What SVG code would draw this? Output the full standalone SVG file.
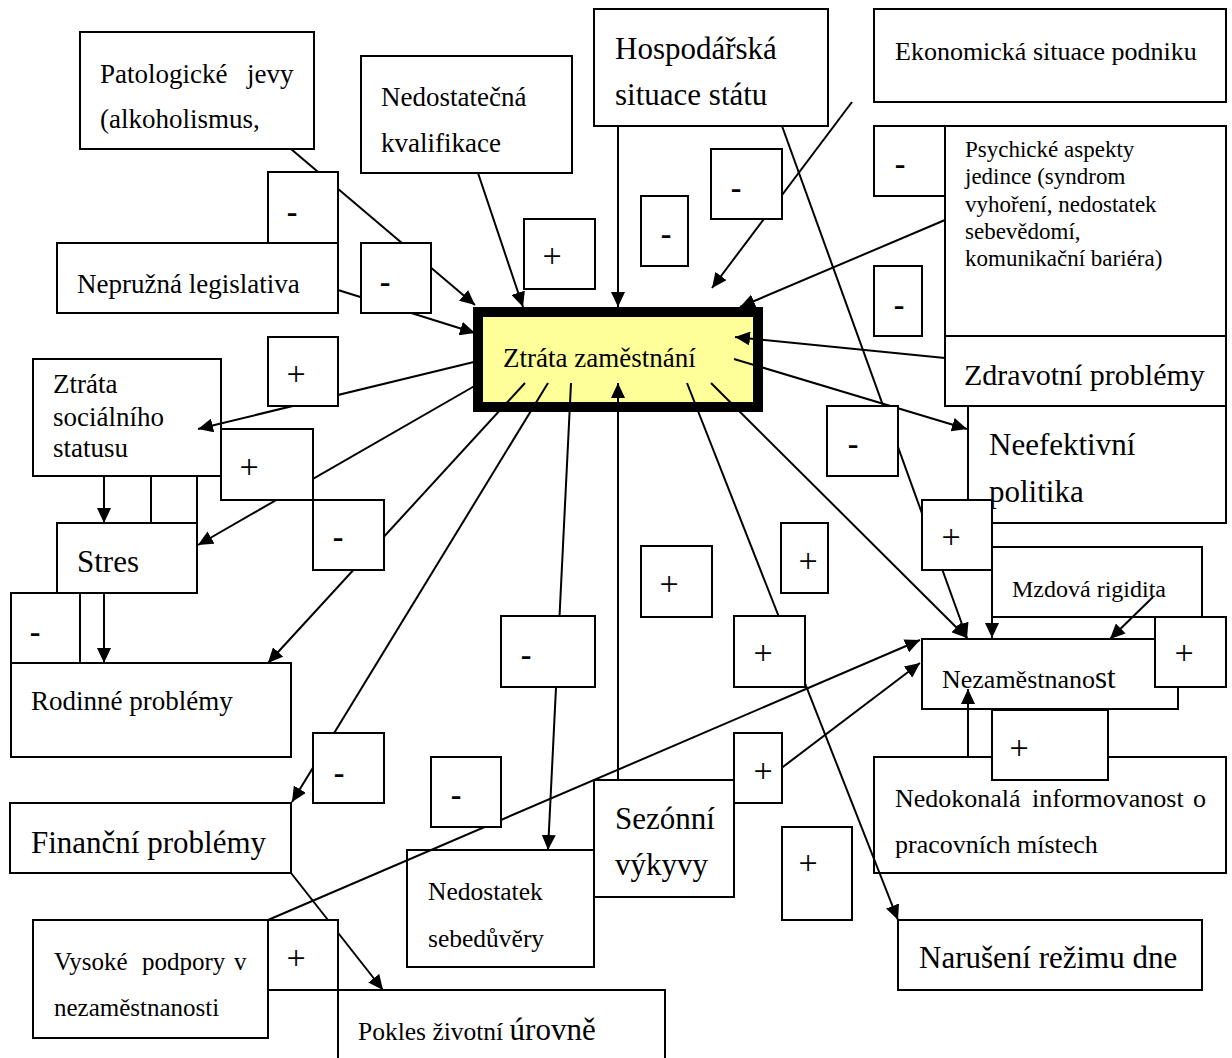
<svg xmlns="http://www.w3.org/2000/svg" width="1232" height="1058" viewBox="0 0 1232 1058">
<style>
  .bg { fill: #ffffff; }
  .n rect, .lb rect { fill: #ffffff; stroke: #000000; stroke-width: 2; }
  .core rect { fill: #FFFF99; stroke: #000000; stroke-width: 10; }
  text { font-family: "Liberation Serif", "Times New Roman", serif; fill: #000000; }
  .f23 { font-size: 23px; }
  .f24 { font-size: 24px; }
  .f25 { font-size: 25px; }
  .f26 { font-size: 26px; }
  .f27 { font-size: 27px; }
  .f30 { font-size: 30px; }
  .f31 { font-size: 31px; }
  .plus { font-size: 34px; text-anchor: middle; }
  .minus { font-size: 32px; font-weight: bold; text-anchor: middle; }
  .c line { stroke: #000000; stroke-width: 2; fill: none; }
  .c .a { marker-end: url(#ah); }
</style>
<defs>
  <marker id="ah" viewBox="0 0 15 14" refX="15" refY="7" markerWidth="15" markerHeight="14" markerUnits="userSpaceOnUse" orient="auto">
    <path d="M0,0 L15,7 L0,14 z" fill="#000000"/>
  </marker>
</defs>
<rect class="bg" x="0" y="0" width="1232" height="1058"/>

<!-- central node -->
<g id="ztrata-zamestnani" class="core">
  <rect x="478" y="312" width="280" height="95"/>
  <text class="f27" x="503" y="367">Ztráta zaměstnání</text>
</g>

<!-- nodes -->
<g id="patologicke-jevy" class="n">
  <rect x="80" y="32" width="234" height="117"/>
  <text class="f27" y="83"><tspan x="100">Patologické</tspan><tspan x="247">jevy</tspan></text>
  <text class="f27" x="100" y="128">(alkoholismus,</text>
</g>
<g id="nedostatecna-kvalifikace" class="n">
  <rect x="361" y="56" width="211" height="117"/>
  <text class="f27" x="381" y="106">Nedostatečná</text>
  <text class="f27" x="381" y="152">kvalifikace</text>
</g>
<g id="hospodarska-situace" class="n">
  <rect x="594" y="9" width="234" height="117"/>
  <text class="f31" x="615" y="59">Hospodářská</text>
  <text class="f31" x="615" y="105">situace státu</text>
</g>
<g id="ekonomicka-situace" class="n">
  <rect x="874" y="9" width="352" height="93"/>
  <text class="f26" x="895" y="60">Ekonomická situace podniku</text>
</g>
<g id="psychicke-aspekty" class="n">
  <rect x="945" y="126" width="281" height="210"/>
  <text class="f23" x="965" y="157">Psychické aspekty</text>
  <text class="f23" x="965" y="184">jedince (syndrom</text>
  <text class="f23" x="965" y="212">vyhoření, nedostatek</text>
  <text class="f23" x="965" y="239">sebevědomí,</text>
  <text class="f23" x="965" y="266">komunikační bariéra)</text>
</g>
<g id="zdravotni-problemy" class="n">
  <rect x="945" y="336" width="281" height="70"/>
  <text class="f30" x="964" y="385">Zdravotní problémy</text>
</g>
<g id="nepruzna-legislativa" class="n">
  <rect x="57" y="243" width="281" height="70"/>
  <text class="f27" x="77" y="293">Nepružná legislativa</text>
</g>
<g id="ztrata-socialniho-statusu" class="n">
  <rect x="33" y="359" width="188" height="117"/>
  <text class="f27" x="53" y="393">Ztráta</text>
  <text class="f27" x="53" y="426">sociálního</text>
  <text class="f27" x="53" y="457">statusu</text>
</g>
<g id="stres" class="n">
  <rect x="57" y="523" width="140" height="70"/>
  <text class="f31" x="77" y="572">Stres</text>
</g>
<g id="rodinne-problemy" class="n">
  <rect x="11" y="663" width="280" height="94"/>
  <text class="f27" x="31" y="710">Rodinné problémy</text>
</g>
<g id="financni-problemy" class="n">
  <rect x="10" y="803" width="281" height="70"/>
  <text class="f31" x="31" y="853">Finanční problémy</text>
</g>
<g id="vysoke-podpory" class="n">
  <rect x="33" y="920" width="235" height="118"/>
  <text class="f25" y="970"><tspan x="54">Vysoké</tspan><tspan x="142">podpory</tspan><tspan x="234">v</tspan></text>
  <text class="f25" x="54" y="1016">nezaměstnanosti</text>
</g>
<g id="pokles-zivotni-urovne" class="n">
  <rect x="338" y="990" width="327" height="80"/>
  <text x="358" y="1040"><tspan style="font-size:25.5px">Pokles životní </tspan><tspan class="f31">úrovně</tspan></text>
</g>
<g id="nedostatek-sebeduvery" class="n">
  <rect x="407" y="850" width="187" height="117"/>
  <text style="font-size:25.5px" x="428" y="900">Nedostatek</text>
  <text style="font-size:25.5px" x="428" y="947">sebedůvěry</text>
</g>
<g id="sezonni-vykyvy" class="n">
  <rect x="594" y="780" width="140" height="117"/>
  <text class="f31" x="615" y="829">Sezónní</text>
  <text class="f31" x="615" y="875">výkyvy</text>
</g>
<g id="neefektivni-politika" class="n">
  <rect x="968" y="406" width="258" height="117"/>
  <text class="f31" x="989" y="455">Neefektivní</text>
  <text class="f31" x="989" y="502">politika</text>
</g>
<g id="mzdova-rigidita" class="n">
  <rect x="992" y="547" width="210" height="70"/>
  <text class="f24" x="1012" y="597">Mzdová rigidita</text>
</g>
<g id="nezamestnanost" class="n">
  <rect x="922" y="639" width="256" height="70"/>
  <text x="942" y="688"><tspan class="f26">Nezaměstnano</tspan><tspan class="f31">st</tspan></text>
</g>
<g id="nedokonala-informovanost" class="n">
  <rect x="874" y="757" width="352" height="116"/>
  <text class="f26" y="807"><tspan x="895">Nedokonalá</tspan><tspan x="1032">informovanost</tspan><tspan x="1193">o</tspan></text>
  <text class="f26" x="895" y="853">pracovních místech</text>
</g>
<g id="naruseni-rezimu-dne" class="n">
  <rect x="898" y="920" width="304" height="70"/>
  <text class="f31" x="919" y="968">Narušení režimu dne</text>
</g>

<!-- connectors -->
<g id="connectors" class="c">
  <line class="a" x1="291" y1="149" x2="475" y2="305"/>
  <line class="a" x1="338" y1="290" x2="475" y2="333"/>
  <line class="a" x1="478" y1="173" x2="523" y2="307"/>
  <line class="a" x1="618" y1="126" x2="618" y2="307"/>
  <line class="a" x1="852" y1="102" x2="712" y2="288"/>
  <line class="a" x1="945" y1="220" x2="740" y2="307"/>
  <line class="a" x1="945" y1="358" x2="735" y2="337"/>
  <line class="a" x1="734" y1="359" x2="967" y2="429"/>
  <line class="a" x1="478" y1="361" x2="198" y2="429"/>
  <line class="a" x1="478" y1="384" x2="198" y2="545"/>
  <line class="a" x1="525" y1="383" x2="268" y2="663"/>
  <line class="a" x1="548" y1="383" x2="292" y2="802"/>
  <line class="a" x1="571" y1="383" x2="548" y2="850"/>
  <line class="a" x1="618" y1="780" x2="618" y2="383"/>
  <line class="a" x1="687" y1="383" x2="898" y2="920"/>
  <line class="a" x1="711" y1="383" x2="967" y2="638"/>
  <line class="a" x1="782" y1="126" x2="967" y2="638"/>
  <line class="a" x1="992" y1="523" x2="992" y2="638"/>
  <line class="a" x1="1153" y1="597" x2="1110" y2="639"/>
  <line class="a" x1="968" y1="757" x2="968" y2="689"/>
  <line class="a" x1="268" y1="920" x2="920" y2="640"/>
  <line class="a" x1="734" y1="804" x2="920" y2="663"/>
  <line class="a" x1="291" y1="873" x2="383" y2="990"/>
  <line class="a" x1="104" y1="476" x2="104" y2="523"/>
  <line class="a" x1="104" y1="593" x2="104" y2="663"/>
</g>

<!-- sign labels -->
<g id="label-1" class="lb"><rect x="268" y="172" width="70" height="71"/><text class="minus" x="292" y="222">-</text></g>
<g id="label-2" class="lb"><rect x="361" y="243" width="70" height="70"/><text class="minus" x="385" y="292">-</text></g>
<g id="label-3" class="lb"><rect x="524" y="219" width="71" height="70"/><text class="plus" x="552" y="267">+</text></g>
<g id="label-4" class="lb"><rect x="641" y="196" width="47" height="70"/><text class="minus" x="666" y="244">-</text></g>
<g id="label-5" class="lb"><rect x="711" y="149" width="71" height="70"/><text class="minus" x="736" y="198">-</text></g>
<g id="label-6" class="lb"><rect x="874" y="126" width="71" height="70"/><text class="minus" x="900" y="174">-</text></g>
<g id="label-7" class="lb"><rect x="874" y="266" width="48" height="70"/><text class="minus" x="899" y="315">-</text></g>
<g id="label-8" class="lb"><rect x="268" y="337" width="70" height="69"/><text class="plus" x="296" y="385">+</text></g>
<g id="label-9" class="lb"><rect x="221" y="429" width="92" height="71"/><text class="plus" x="249" y="478">+</text></g>
<g id="label-10" class="lb"><rect x="313" y="500" width="71" height="70"/><text class="minus" x="338" y="547">-</text></g>
<g id="label-11" class="lb"><rect x="151" y="476" width="46" height="47"/></g>
<g id="label-12" class="lb"><rect x="11" y="593" width="69" height="70"/><text class="minus" x="35" y="642">-</text></g>
<g id="label-13" class="lb"><rect x="313" y="733" width="71" height="70"/><text class="minus" x="339" y="783">-</text></g>
<g id="label-14" class="lb"><rect x="501" y="616" width="94" height="71"/><text class="minus" x="526" y="665">-</text></g>
<g id="label-15" class="lb"><rect x="431" y="757" width="70" height="70"/><text class="minus" x="456" y="805">-</text></g>
<g id="label-16" class="lb"><rect x="641" y="546" width="71" height="71"/><text class="plus" x="669" y="595">+</text></g>
<g id="label-17" class="lb"><rect x="781" y="523" width="47" height="70"/><text class="plus" x="808" y="572">+</text></g>
<g id="label-18" class="lb"><rect x="734" y="616" width="71" height="71"/><text class="plus" x="763" y="664">+</text></g>
<g id="label-19" class="lb"><rect x="734" y="733" width="48" height="70"/><text class="plus" x="763" y="782">+</text></g>
<g id="label-20" class="lb"><rect x="782" y="827" width="70" height="93"/><text class="plus" x="808" y="874">+</text></g>
<g id="label-21" class="lb"><rect x="827" y="406" width="71" height="70"/><text class="minus" x="853" y="454">-</text></g>
<g id="label-22" class="lb"><rect x="922" y="500" width="70" height="70"/><text class="plus" x="951" y="548">+</text></g>
<g id="label-23" class="lb"><rect x="1155" y="617" width="71" height="70"/><text class="plus" x="1184" y="664">+</text></g>
<g id="label-24" class="lb"><rect x="992" y="710" width="116" height="70"/><text class="plus" x="1019" y="759">+</text></g>
<g id="label-25" class="lb"><rect x="268" y="920" width="70" height="70"/><text class="plus" x="296" y="969">+</text></g>
</svg>
